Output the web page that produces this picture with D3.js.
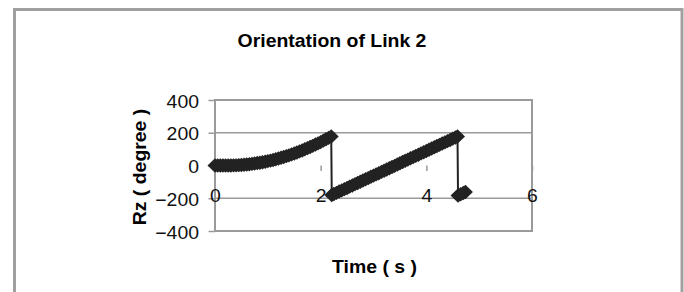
<!DOCTYPE html>
<html>
<head>
<meta charset="utf-8">
<script src="https://cdn.jsdelivr.net/npm/d3@7"></script>
<style>
  body { margin: 0; background: #fff; }
  text { font-family: "Liberation Sans", Arial, sans-serif; }
</style>
</head>
<body>
<script>
// Variables

// SVG Variables
var width = 684;
var height = 292;
var plot = {left: 215, right: 532, top: 100, bottom: 231};
var stretch = 1.08; // text in the picture is a little wider than normal

// Data Variables
var title = "Orientation of Link 2";
var xTitle = "Time ( s )";
var yTitle = "Rz ( degree )";
var xTicks = [0, 2, 4, 6];
var yTicks = [-400, -200, 0, 200, 400];
var gridValues = [-200, 200];

// time (s) of each point
var time = [
    0.00, 0.05, 0.10, 0.15, 0.20, 0.25, 0.30, 0.35, 0.40, 0.45,
    0.50, 0.55, 0.60, 0.65, 0.70, 0.75, 0.80, 0.85, 0.90, 0.95,
    1.00, 1.05, 1.10, 1.15, 1.20, 1.25, 1.30, 1.35, 1.40, 1.45,
    1.50, 1.55, 1.60, 1.65, 1.70, 1.75, 1.80, 1.85, 1.90, 1.95,
    2.00, 2.05, 2.10, 2.15, 2.20,
    2.21, 2.25, 2.30, 2.35, 2.40, 2.45, 2.50, 2.55, 2.60, 2.65,
    2.70, 2.75, 2.80, 2.85, 2.90, 2.95, 3.00, 3.05, 3.10, 3.15,
    3.20, 3.25, 3.30, 3.35, 3.40, 3.45, 3.50, 3.55, 3.60, 3.65,
    3.70, 3.75, 3.80, 3.85, 3.90, 3.95, 4.00, 4.05, 4.10, 4.15,
    4.20, 4.25, 4.30, 4.35, 4.40, 4.45, 4.50, 4.55, 4.59,
    4.60, 4.65, 4.70, 4.74
];
// Rz (degree) of each point
var rz = [
    0, 0, 0, 0, 0, 0, 0, 1, 1, 2,
    3, 5, 6, 8, 10, 12, 15, 17, 20, 23,
    27, 30, 34, 38, 43, 47, 52, 57, 62, 68,
    73, 79, 86, 92, 99, 106, 113, 120, 128, 135,
    143, 152, 160, 169, 177,
    -180, -174, -167, -159, -152, -144, -137, -129, -122, -114,
    -107, -99, -92, -84, -77, -69, -62, -54, -47, -39,
    -32, -24, -17, -9, -2, 6, 14, 21, 29, 36,
    44, 51, 59, 66, 74, 81, 89, 96, 104, 111,
    119, 126, 134, 141, 149, 156, 164, 171, 177,
    -183, -176, -168, -162
];

var points = time.map(function(t, i) { return {t: t, v: rz[i]}; });

var svg = d3.select("body").append("svg")
    .attr("width", width)
    .attr("height", height);

// Outer chart border
svg.append("rect")
    .attr("x", 14.5).attr("y", 9.5)
    .attr("width", 667.5).attr("height", 320)
    .attr("fill", "#fff")
    .attr("stroke", "#a0a0a0")
    .attr("stroke-width", 3);

// Scales
var x = d3.scaleLinear().domain([0, 6]).range([plot.left, plot.right]);
var y = d3.scaleLinear().domain([-400, 400]).range([plot.bottom, plot.top]);

// Gridlines
svg.append("g").selectAll("line").data(gridValues).enter().append("line")
    .attr("x1", plot.left).attr("x2", plot.right)
    .attr("y1", function(d) { return y(d); })
    .attr("y2", function(d) { return y(d); })
    .attr("stroke", "#9a9a9a")
    .attr("stroke-width", 1.3);

// Plot frame
svg.append("rect")
    .attr("x", plot.left).attr("y", plot.top)
    .attr("width", plot.right - plot.left)
    .attr("height", plot.bottom - plot.top)
    .attr("fill", "none")
    .attr("stroke", "#9a9a9a")
    .attr("stroke-width", 2);

// Y axis
var yAxis = svg.append("g")
    .attr("transform", "translate(" + plot.left + ",0)")
    .call(d3.axisLeft(y).tickValues(yTicks).tickSize(6.5).tickFormat(d3.format("d")));
yAxis.select(".domain").remove();
yAxis.selectAll("line").attr("stroke", "#9a9a9a").attr("stroke-width", 1.5);
yAxis.selectAll("text")
    .attr("x", 0).attr("dy", "7px")
    .attr("transform", "translate(-16,0) scale(" + stretch + ",1)")
    .attr("font-size", "18px")
    .attr("fill", "#111");

// X axis sits at zero, line hidden, labels pushed down
var xAxis = svg.append("g")
    .attr("transform", "translate(0," + y(0) + ")")
    .call(d3.axisBottom(x).tickValues(xTicks).tickSize(5.5).tickPadding(18).tickFormat(d3.format("d")));
xAxis.select(".domain").remove();
xAxis.selectAll("line").attr("stroke", "#9a9a9a").attr("stroke-width", 1.5);
xAxis.selectAll("text")
    .attr("transform", "scale(" + stretch + ",1)")
    .attr("font-size", "18px")
    .attr("fill", "#111");

// Thin connecting line
var line = d3.line()
    .x(function(d) { return x(d.t); })
    .y(function(d) { return y(d.v); });

svg.append("path")
    .datum(points)
    .attr("d", line)
    .attr("fill", "none")
    .attr("stroke", "#222")
    .attr("stroke-width", 2);

// Diamond markers (they overlap into a thick band)
var diamond = "M0,-7.2L7.5,0L0,7.2L-7.5,0Z";
svg.append("g").selectAll("path").data(points).enter().append("path")
    .attr("d", diamond)
    .attr("transform", function(d) { return "translate(" + x(d.t) + "," + y(d.v) + ")"; })
    .attr("fill", "#222");

// Titles
svg.append("text")
    .attr("transform", "translate(332,47) scale(" + stretch + ",1)")
    .attr("text-anchor", "middle")
    .attr("font-size", "18px")
    .attr("font-weight", "bold")
    .text(title);

svg.append("text")
    .attr("transform", "translate(374.5,273) scale(" + stretch + ",1)")
    .attr("text-anchor", "middle")
    .attr("font-size", "18px")
    .attr("font-weight", "bold")
    .text(xTitle);

svg.append("text")
    .attr("transform", "translate(146,167) rotate(-90) scale(" + stretch + ",1)")
    .attr("text-anchor", "middle")
    .attr("font-size", "18px")
    .attr("font-weight", "bold")
    .text(yTitle);
</script>
</body>
</html>
